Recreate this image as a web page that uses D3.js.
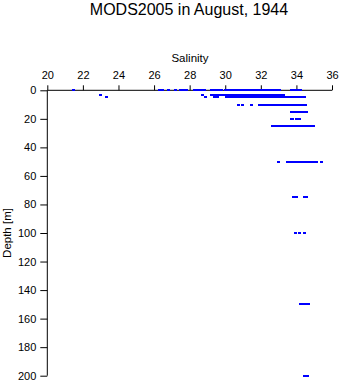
<!DOCTYPE html>
<html><head><meta charset="utf-8">
<script src="https://cdn.jsdelivr.net/npm/d3@7"></script>
<style>body{margin:0;background:#fff}text{font-family:"Liberation Sans",Arial,sans-serif}</style>
</head><body>
<svg id="c" width="341" height="384"></svg>
<script>
const title = "MODS2005 in August, 1944";
const xLabel = "Salinity";
const yLabel = "Depth [m]";
const xTicks = [20,22,24,26,28,30,32,34,36];
const yTicks = [0,20,40,60,80,100,120,140,160,180,200];
// salinity observations at each standard depth (m)
const depths = [0,3,5,10,15,20,25,50,75,100,150,200];
const sal0 = [21.5,26.3,26.45,26.8,27.2,27.5,27.6,27.75,27.85,28.3,28.45,28.6,28.75,28.85,29.2,29.35,29.5,29.65,29.8,30.0,30.15,30.3,30.45,30.6,30.75,30.9,31.05,31.2,31.35,31.5,31.65,31.8,31.95,32.1,32.25,32.45,32.6,32.75,32.9,33.05,33.7,33.85,34.0,34.15,34.25];
const sal3 = [23.0,28.75,29.25,29.4,29.55,29.75,29.9,30.05,30.2,30.3,30.45,30.6,30.75,30.85,31.0,31.15,31.3,31.45,31.6,31.75,31.9,32.05,32.2,32.35,32.5,32.65,32.8,32.95,33.1,33.25];
const sal5 = [23.3,28.9,29.4,29.55,30.05,30.2,30.35,30.45,30.6,30.7,30.85,31.0,31.2,31.3,31.45,31.6,31.75,31.9,32.05,32.2,32.35,32.5,32.65,32.8,32.95,33.1,33.25,33.4,33.55,33.7,33.85,34.0,34.15,34.3,34.45];
const sal10 = [30.75,30.95,31.45,31.9,32.05,32.15,32.3,32.45,32.6,32.75,32.9,33.05,33.2,33.35,33.5,33.65,33.8,33.95,34.1,34.25,34.4,34.5];
const sal15 = [33.7,33.85,34.0,34.15,34.3,34.45,34.55];
const sal20 = [33.7,33.8,34.0,34.1,34.2];
const sal25 = [32.65,32.8,32.95,33.1,33.25,33.4,33.55,33.7,33.85,34.0,34.15,34.3,34.45,34.65,34.8,34.95];
const sal50 = [33.0,33.5,33.65,33.8,33.95,34.1,34.25,34.4,34.55,34.7,34.85,35.0,35.15,35.4];
const sal75 = [33.85,34.0,34.45,34.55];
const sal100 = [33.95,34.2,34.45];
const sal150 = [34.25,34.4,34.55,34.7];
const sal200 = [34.45,34.6];
const salByDepth = [sal0,sal3,sal5,sal10,sal15,sal20,sal25,sal50,sal75,sal100,sal150,sal200];

const points = [];
depths.forEach((d,i)=>salByDepth[i].forEach(s=>points.push({s,d})));

const svg = d3.select("#c");
const x = d3.scaleLinear().domain([20,36]).range([47.3,332]);
const y = d3.scaleLinear().domain([0,200]).range([90.3,375.7]);

svg.append("text").attr("x",189).attr("y",15).attr("text-anchor","middle")
  .attr("font-size",16).text(title);
svg.append("text").attr("x",190).attr("y",62).attr("text-anchor","middle")
  .attr("font-size",11.5).text(xLabel);
svg.append("text").attr("transform","translate(11,233) rotate(-90)").attr("text-anchor","middle")
  .attr("font-size",11.5).text(yLabel);

const xAxis = svg.append("g").attr("transform","translate(0,90.3)")
  .call(d3.axisTop(x).tickValues(xTicks).tickSize(5).tickPadding(6).tickFormat(d3.format("d")));
const yAxis = svg.append("g").attr("transform","translate(47.3,0)")
  .call(d3.axisLeft(y).tickValues(yTicks).tickSize(7).tickPadding(4).tickFormat(d3.format("d")));
[xAxis,yAxis].forEach(g=>{
  g.select(".domain").remove();
  g.selectAll("line").attr("stroke","#000");
  g.selectAll("text").attr("font-size",11).attr("fill","#000").style("font-family","'Liberation Sans',Arial,sans-serif");
});
svg.append("line").attr("x1",x(20)).attr("x2",x(36)).attr("y1",y(0)).attr("y2",y(0)).attr("stroke","#000");
svg.append("line").attr("x1",x(20)).attr("x2",x(20)).attr("y1",y(0)).attr("y2",y(200)).attr("stroke","#000");

svg.append("g").attr("shape-rendering","crispEdges").selectAll("rect").data(points).join("rect")
  .attr("x",p=>Math.round(x(p.s)-1.5)).attr("y",p=>Math.round(y(p.d)-1)).attr("width",3).attr("height",2)
  .attr("fill","#0000ff");
</script>
</body></html>
